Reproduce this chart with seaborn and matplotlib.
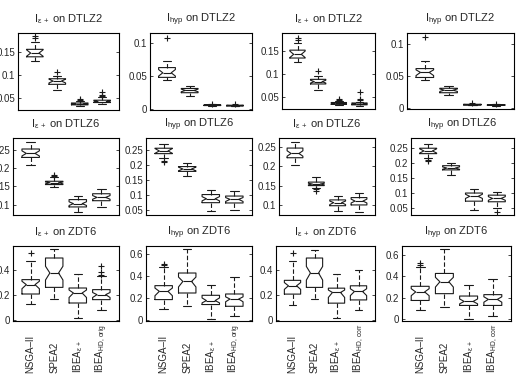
import pandas as pd
import matplotlib
matplotlib.use("Agg")
import matplotlib.pyplot as plt
import seaborn as sns

# ----------------------------
# data (box statistics per panel, 4 boxes each)
# panels row-major: eps DTLZ2 orig, hyp DTLZ2 orig, eps DTLZ2 corr, hyp DTLZ2 corr, ... DTLZ6 ..., ZDT6 ...
# ----------------------------
ALGOS_ORIG = ["NSGA–II", "SPEA2", "IBEA$_{ε\\,+}$", "IBEA$_{HD,\\,orig}$"]
ALGOS_CORR = ["NSGA–II", "SPEA2", "IBEA$_{ε\\,+}$", "IBEA$_{HD,\\,corr}$"]

TITLES = [
    "I$_{ε\\,+}$ on DTLZ2", "I$_{hyp}$ on DTLZ2", "I$_{ε\\,+}$ on DTLZ2", "I$_{hyp}$ on DTLZ2",
    "I$_{ε\\,+}$ on DTLZ6", "I$_{hyp}$ on DTLZ6", "I$_{ε\\,+}$ on DTLZ6", "I$_{hyp}$ on DTLZ6",
    "I$_{ε\\,+}$ on ZDT6", "I$_{hyp}$ on ZDT6", "I$_{ε\\,+}$ on ZDT6", "I$_{hyp}$ on ZDT6",
]

WHISLO = [
    [0.129, 0.067, 0.034, 0.038], [0.044, 0.020, 0.0040, 0.0035],
    [0.127, 0.067, 0.034, 0.032], [0.044, 0.021, 0.0040, 0.0035],
    [0.209, 0.148, 0.080, 0.093], [0.222, 0.165, 0.047, 0.050],
    [0.203, 0.145, 0.084, 0.081], [0.219, 0.161, 0.045, 0.050],
    [0.128, 0.171, 0.016, 0.077], [0.100, 0.130, 0.012, 0.033],
    [0.120, 0.169, 0.012, 0.075], [0.089, 0.120, 0.000, 0.036],
]
Q1 = [
    [0.139, 0.080, 0.036, 0.041], [0.048, 0.0245, 0.0048, 0.0043],
    [0.135, 0.079, 0.035, 0.034], [0.048, 0.024, 0.0048, 0.0042],
    [0.229, 0.155, 0.094, 0.111], [0.238, 0.179, 0.075, 0.074],
    [0.222, 0.150, 0.098, 0.100], [0.232, 0.178, 0.074, 0.072],
    [0.208, 0.261, 0.136, 0.163], [0.185, 0.245, 0.140, 0.124],
    [0.207, 0.261, 0.134, 0.160], [0.176, 0.239, 0.130, 0.130],
]
MED = [
    [0.147, 0.087, 0.038, 0.043], [0.055, 0.028, 0.0053, 0.0048],
    [0.143, 0.084, 0.037, 0.036], [0.056, 0.028, 0.0053, 0.0047],
    [0.240, 0.160, 0.103, 0.120], [0.247, 0.187, 0.088, 0.086],
    [0.233, 0.154, 0.106, 0.110], [0.241, 0.184, 0.090, 0.083],
    [0.283, 0.376, 0.216, 0.203], [0.260, 0.350, 0.176, 0.190],
    [0.274, 0.377, 0.220, 0.228], [0.255, 0.349, 0.167, 0.186],
]
Q3 = [
    [0.155, 0.092, 0.040, 0.046], [0.063, 0.031, 0.0058, 0.0053],
    [0.152, 0.089, 0.039, 0.038], [0.062, 0.031, 0.0058, 0.0052],
    [0.252, 0.164, 0.114, 0.130], [0.256, 0.195, 0.102, 0.097],
    [0.247, 0.159, 0.113, 0.119], [0.250, 0.192, 0.101, 0.094],
    [0.323, 0.496, 0.256, 0.243], [0.312, 0.427, 0.224, 0.236],
    [0.318, 0.498, 0.255, 0.274], [0.307, 0.426, 0.217, 0.230],
]
WHISHI = [
    [0.171, 0.097, 0.044, 0.052], [0.073, 0.035, 0.0065, 0.0060],
    [0.167, 0.097, 0.043, 0.041], [0.074, 0.035, 0.0065, 0.0058],
    [0.270, 0.175, 0.125, 0.143], [0.271, 0.206, 0.118, 0.113],
    [0.262, 0.171, 0.124, 0.131], [0.265, 0.201, 0.116, 0.105],
    [0.475, 0.568, 0.368, 0.349], [0.480, 0.648, 0.320, 0.388],
    [0.476, 0.565, 0.369, 0.400], [0.490, 0.654, 0.317, 0.373],
]
NOTCH_LO = [
    [0.140, 0.083, 0.037, 0.042], [0.050, 0.026, 0.0050, 0.0045],
    [0.136, 0.081, 0.036, 0.035], [0.051, 0.026, 0.0050, 0.0044],
    [0.233, 0.157, 0.098, 0.115], [0.239, 0.181, 0.081, 0.079],
    [0.226, 0.152, 0.101, 0.105], [0.234, 0.180, 0.083, 0.077],
    [0.250, 0.320, 0.180, 0.180], [0.220, 0.300, 0.155, 0.165],
    [0.245, 0.320, 0.180, 0.195], [0.220, 0.300, 0.145, 0.160],
]
NOTCH_HI = [
    [0.154, 0.091, 0.039, 0.045], [0.060, 0.030, 0.0056, 0.0051],
    [0.150, 0.087, 0.038, 0.037], [0.060, 0.030, 0.0056, 0.0050],
    [0.247, 0.162, 0.108, 0.125], [0.255, 0.193, 0.095, 0.092],
    [0.240, 0.156, 0.110, 0.115], [0.248, 0.188, 0.097, 0.089],
    [0.310, 0.430, 0.240, 0.220], [0.290, 0.390, 0.200, 0.210],
    [0.300, 0.430, 0.240, 0.250], [0.285, 0.390, 0.190, 0.210],
]
FLIERS = [
    [[0.184, 0.179], [0.107], [0.048, 0.046], [0.064, 0.058, 0.055]],
    [[0.109], [], [0.0075], [0.0068]],
    [[0.179, 0.174], [0.107], [0.047, 0.045], [0.061, 0.047, 0.044]],
    [[0.111], [], [0.0075], [0.0066]],
    [[], [0.181, 0.178], [], []],
    [[0.214, 0.209], [], [], []],
    [[], [0.140, 0.136], [], []],
    [[0.211, 0.207], [], [], [0.039]],
    [[0.536], [], [], [0.429, 0.381, 0.363]],
    [[0.510, 0.500], [], [], []],
    [[0.540], [], [], []],
    [[0.520, 0.505], [], [], []],
]

YTICKS = [
    [0.05, 0.1, 0.15], [0, 0.05, 0.1], [0.05, 0.1, 0.15], [0, 0.05, 0.1],
    [0.1, 0.15, 0.2, 0.25], [0.05, 0.1, 0.15, 0.2, 0.25],
    [0.1, 0.15, 0.2, 0.25], [0.05, 0.1, 0.15, 0.2, 0.25],
    [0, 0.2, 0.4], [0, 0.2, 0.4, 0.6], [0, 0.2, 0.4], [0, 0.2, 0.4, 0.6],
]

# layout (pixels in the 516x385 picture) and y limits per panel
POS = [
    (18, 119, 33, 110), (150, 252, 33, 110), (282, 375, 33, 109), (407, 514, 33, 109),
    (13, 119, 138, 215), (146, 252, 138, 215), (279, 375, 138, 215), (411, 514, 138, 215),
    (13, 119, 246, 321), (146, 252, 246, 321), (276, 375, 246, 321), (402, 511, 246, 321),
]
YLIMS = [
    (0.025, 0.19), (-0.002, 0.116), (0.025, 0.189), (-0.0016, 0.118),
    (0.072, 0.282), (0.034, 0.290), (0.074, 0.273), (0.028, 0.284),
    (-0.008, 0.592), (-0.01, 0.673), (-0.01, 0.595), (-0.014, 0.68),
]
LABEL_BASE = 373  # pixel row where the rotated algorithm names start

sns.set_style("ticks")
plt.rcParams.update({
    "font.family": ["Liberation Sans", "DejaVu Sans"],
    "mathtext.fontset": "custom",
    "mathtext.rm": "Liberation Sans",
    "mathtext.it": "Liberation Sans:italic",
    "mathtext.default": "regular",
    "axes.edgecolor": "black",
    "axes.linewidth": 0.8,
})

W, H = 516, 385
fig = plt.figure(figsize=(W / 100, H / 100), dpi=100)
LINE = "#1a1a1a"

for i in range(12):
    l, r, t, b = POS[i]
    ax = fig.add_axes([l / W, 1 - b / H, (r - l) / W, (b - t) / H])
    stats = []
    for k in range(4):
        stats.append(dict(med=MED[i][k], q1=Q1[i][k], q3=Q3[i][k],
                          whislo=WHISLO[i][k], whishi=WHISHI[i][k],
                          cilo=NOTCH_LO[i][k], cihi=NOTCH_HI[i][k], fliers=[]))
    ax.bxp(stats, positions=[1, 2, 3, 4], widths=0.74, shownotches=True,
           showfliers=False, manage_ticks=False, capwidths=0.36,
           boxprops=dict(color=LINE, linewidth=0.8),
           whiskerprops=dict(color=LINE, linewidth=0.8, linestyle=(0, (4, 2))),
           capprops=dict(color=LINE, linewidth=0.8),
           medianprops=dict(color=LINE, linewidth=0.8))

    fl = pd.DataFrame([(k + 1, v) for k in range(4) for v in FLIERS[i][k]],
                      columns=["pos", "value"])
    if len(fl):
        sns.scatterplot(data=fl, x="pos", y="value", marker="+", color=LINE,
                        s=22, linewidth=0.8, ax=ax, legend=False, zorder=3)

    ax.set_xlim(0.25, 4.75)
    ax.set_ylim(*YLIMS[i])
    ax.set_yticks(YTICKS[i])
    ax.set_yticklabels([f"{v:g}" for v in YTICKS[i]])
    ax.tick_params(axis="y", direction="in", right=True, length=2.5,
                   width=0.6, labelsize=7, pad=2)
    ax.set_xticks([1, 2, 3, 4])
    if i >= 8:
        labels = ALGOS_ORIG if (i % 4) < 2 else ALGOS_CORR
        ax.set_xticklabels(labels, rotation=90, fontsize=7, va="bottom")
        ax.tick_params(axis="x", length=0, pad=(LABEL_BASE - b) * 0.72)
    else:
        ax.set_xticklabels([])
        ax.tick_params(axis="x", length=0)
    ax.set_xlabel("")
    ax.set_ylabel("")
    ax.set_title(TITLES[i], fontsize=8, pad=8)
    for s in ax.spines.values():
        s.set_visible(True)
        s.set_color("black")
        s.set_linewidth(0.8)

fig.savefig("out.png", dpi=100)
